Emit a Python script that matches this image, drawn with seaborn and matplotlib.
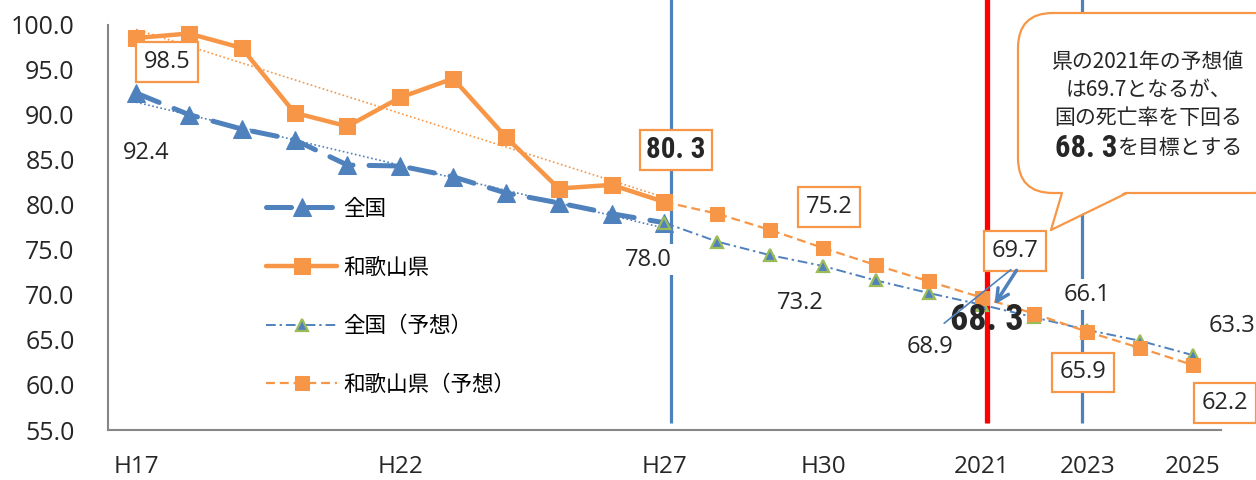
import numpy as np
import pandas as pd
import matplotlib
matplotlib.use("Agg")
import matplotlib.pyplot as plt
import seaborn as sns
from matplotlib import font_manager as fm
from matplotlib.patches import FancyBboxPatch, Polygon
from matplotlib.lines import Line2D
from matplotlib.transforms import IdentityTransform

# ---------------- data ----------------
periods = ["H17", "H18", "H19", "H20", "H21", "H22", "H23", "H24", "H25", "H26",
           "H27", "H28", "H29", "H30", "2019", "2020", "2021", "2022", "2023", "2024", "2025"]
shown_ticks = ["H17", "H22", "H27", "H30", "2021", "2023", "2025"]

zenkoku = [92.4, 90.0, 88.4, 87.2, 84.4, 84.3, 83.1, 81.3, 80.2, 79.0, 78.0]            # H17-H27
wakayama = [98.5, 99.0, 97.4, 90.2, 88.7, 91.9, 94.0, 87.5, 81.8, 82.2, 80.3]           # H17-H27
zenkoku_pred = [78.0, 75.9, 74.4, 73.2, 71.6, 70.2, 68.9, 67.5, 66.1, 64.9, 63.3]       # H27-2025
wakayama_pred = [80.3, 79.0, 77.2, 75.2, 73.3, 71.5, 69.7, 67.9, 65.9, 64.1, 62.2]      # H27-2025
target_2021 = 68.3

labels = {"zen": "全国", "wak": "和歌山県", "zenp": "全国（予想）", "wakp": "和歌山県（予想）"}

BLUE = "#4F81BD"
ORANGE = "#F79646"
GREEN = "#9BBB59"
RED = "#FF0000"

# ---------------- style ----------------
sns.set_style("white")
plt.rcParams["font.family"] = ["Open Sans", "Noto Sans CJK JP", "DejaVu Sans"]


def pick_condensed_bold():
    prefs = ["robotocondensed-bold", "liberationsansnarrow-bold", "dejavusanscondensed-bold",
             "opensans-condbold", "opensans_condensed-bold", "notosans-condensedbold",
             "notosansdisplay-condensedbold", "lato-black", "roboto-black", "roboto-bold"]
    files = [f.fname for f in fm.fontManager.ttflist]
    for p in prefs:
        for fn in files:
            base = fn.lower().replace(" ", "").split("/")[-1]
            if base.startswith(p + "."):
                return fm.FontProperties(fname=fn)
    for fn in files:
        b = fn.lower()
        if ("condensed" in b or "narrow" in b) and "bold" in b and "italic" not in b:
            return fm.FontProperties(fname=fn)
    return fm.FontProperties(family="DejaVu Sans", weight="bold")


COND = pick_condensed_bold()

W, H = 1256, 480
fig = plt.figure(figsize=(W / 100, H / 100), dpi=100)
ax = fig.add_axes([108 / W, 50 / H, 1113 / W, 405.5 / H])

x_act = np.arange(len(zenkoku))
x_pred = np.arange(len(zenkoku_pred)) + len(zenkoku) - 1

df_act = pd.DataFrame({"x": x_act, "zen": zenkoku, "wak": wakayama})
df_pred = pd.DataFrame({"x": x_pred, "zen": zenkoku_pred, "wak": wakayama_pred})

# reference vertical lines
vkw = dict(clip_on=False, zorder=1, solid_capstyle="butt")
ax.plot([10.12, 10.12], [55.8, 102.8], color=BLUE, lw=2.3, **vkw)
ax.plot([17.9, 17.9], [55.8, 102.8], color=BLUE, lw=2.3, **vkw)
ax.plot([16.1, 16.1], [55.8, 102.8], color=RED, lw=3.8, **vkw)

# trend lines (linear fit of the actual values)
for col, c in (("wak", ORANGE), ("zen", BLUE)):
    k, b = np.polyfit(df_act["x"], df_act[col], 1)
    ax.plot(df_act["x"], k * df_act["x"] + b, color=c, lw=1.2, ls=(0, (1, 1.5)), zorder=2)

# series
sns.lineplot(data=df_act, x="x", y="zen", ax=ax, color=BLUE, lw=3.6,
             linestyle=(0, (5, 3.2)), dash_capstyle="round",
             marker="^", markersize=13, markeredgecolor=BLUE, markerfacecolor=BLUE,
             label=labels["zen"], zorder=4)
sns.lineplot(data=df_act, x="x", y="wak", ax=ax, color=ORANGE, lw=3.2,
             marker="s", markersize=11, markeredgecolor=ORANGE, markerfacecolor=ORANGE,
             label=labels["wak"], zorder=4)
sns.lineplot(data=df_pred, x="x", y="zen", ax=ax, color=BLUE, lw=1.4,
             linestyle=(0, (5, 2, 1.2, 2)),
             marker="^", markersize=9, markeredgecolor=GREEN, markeredgewidth=1.6,
             markerfacecolor=BLUE, label=labels["zenp"], zorder=5)
sns.lineplot(data=df_pred, x="x", y="wak", ax=ax, color=ORANGE, lw=1.6,
             linestyle=(0, (4, 2.2)),
             marker="s", markersize=10.5, markeredgecolor=ORANGE, markerfacecolor=ORANGE,
             label=labels["wakp"], zorder=5)

# axes
ax.set_xlim(-0.53, 20.53)
ax.set_ylim(55, 100)
ax.set_yticks(np.arange(55, 100.1, 5))
ax.set_yticklabels([f"{v:.1f}" for v in np.arange(55, 100.1, 5)], fontsize=18)
ax.set_xticks(range(len(periods)))
ax.set_xticklabels([p if p in shown_ticks else "" for p in periods], fontsize=17.5)
ax.set_xlabel("")
ax.set_ylabel("")
for s in ("top", "right"):
    ax.spines[s].set_visible(False)
for s in ("left", "bottom"):
    ax.spines[s].set_color("#868686")
    ax.spines[s].set_linewidth(1.5)
ax.tick_params(axis="y", direction="out", length=7, width=1.3, color="#868686", pad=17)
ax.tick_params(axis="x", direction="in", length=5, width=1.3, color="#868686", pad=18)

# legend
leg = ax.legend(loc="upper left", bbox_to_anchor=(266 / W, 1 - 199 / H),
                bbox_transform=fig.transFigure, frameon=False, fontsize=15.5,
                handlelength=3.3, handletextpad=0.3, labelspacing=1.75,
                borderpad=0, borderaxespad=0)
for t in leg.get_texts():
    t.set_color("black")

# data labels
def boxed(x, y, s, **kw):
    ax.text(x, y, s, ha="center", va="center", fontsize=17, zorder=8,
            bbox=dict(boxstyle="square,pad=0.32", fc="white", ec=ORANGE, lw=1.6), **kw)

def plain(x, y, s, bg=False, **kw):
    extra = {}
    if bg:
        extra["bbox"] = dict(boxstyle="square,pad=0.15", fc="white", ec="none")
    ax.text(x, y, s, ha="center", va="center", fontsize=17, zorder=8, **extra, **kw)

boxed(0.59, 95.84, f"{wakayama[0]:.1f}")
plain(0.19, 85.7, f"{zenkoku[0]:.1f}")
plain(9.69, 73.9, f"{zenkoku_pred[0]:.1f}", bg=True)
boxed(13.11, 79.75, f"{wakayama_pred[3]:.1f}")
plain(12.56, 69.1, f"{zenkoku_pred[3]:.1f}")
plain(15.02, 64.2, f"{zenkoku_pred[6]:.1f}")
boxed(16.63, 74.86, f"{wakayama_pred[6]:.1f}")
plain(18.0, 70.0, f"{zenkoku_pred[8]:.1f}", bg=True)
boxed(17.92, 61.43, f"{wakayama_pred[8]:.1f}")
plain(20.74, 66.54, f"{zenkoku_pred[10]:.1f}")
boxed(20.6, 58.0, f"{wakayama_pred[10]:.1f}")

ax.text(10.22, 86.07, f"{wakayama[-1]:.1f}".replace(".", ". "), ha="center", va="center",
        fontproperties=COND, fontsize=21, zorder=8,
        bbox=dict(boxstyle="square,pad=0.22", fc="white", ec=ORANGE, lw=1.6))
ax.text(16.1, 67.2, f"{target_2021:.1f}".replace(".", ". "), ha="center", va="center",
        fontproperties=COND, fontsize=26, zorder=8)

# arrow + thin line near 2021
ax.annotate("", xy=(993, H - 307), xytext=(1018, H - 268), xycoords="figure pixels",
            textcoords="figure pixels",
            arrowprops=dict(arrowstyle="->", color=BLUE, lw=2.5, mutation_scale=22), zorder=9)
ax.annotate("", xy=(942, H - 325), xytext=(1013, H - 268), xycoords="figure pixels",
            textcoords="figure pixels",
            arrowprops=dict(arrowstyle="-", color=BLUE, lw=1.2), zorder=9)

# callout
box = FancyBboxPatch((1018, H - 193), 270, 180, boxstyle="round,pad=0,rounding_size=35",
                     transform=IdentityTransform(), fc="white", ec=ORANGE, lw=1.6, zorder=10)
fig.add_artist(box)
tail = Polygon([(1062, H - 191), (1127, H - 191), (1051, H - 230)], closed=True,
               transform=IdentityTransform(), fc="white", ec="none", zorder=11)
fig.add_artist(tail)
for (x0, y0) in ((1062, 193), (1127, 193)):
    fig.add_artist(Line2D([x0, 1051], [H - y0, H - 230], transform=IdentityTransform(),
                          color=ORANGE, lw=1.6, zorder=12))
cfont = dict(ha="center", va="center", fontsize=15, zorder=13,
             family=["Noto Sans CJK JP", "DejaVu Sans"])
fig.text(1148 / W, 1 - 62 / H, "県の2021年の予想値", **cfont)
fig.text(1148 / W, 1 - 90 / H, "は69.7となるが、", **cfont)
fig.text(1148 / W, 1 - 118 / H, "国の死亡率を下回る", **cfont)
fig.text(1117 / W, 1 - 148 / H, f"{target_2021:.1f}".replace(".", ". "), ha="right", va="center",
         fontproperties=COND, fontsize=22, zorder=13)
fig.text(1118 / W, 1 - 148 / H, "を目標とする", ha="left", va="center", fontsize=15, zorder=13,
         family=["Noto Sans CJK JP", "DejaVu Sans"])

fig.savefig("out.png", dpi=100)
